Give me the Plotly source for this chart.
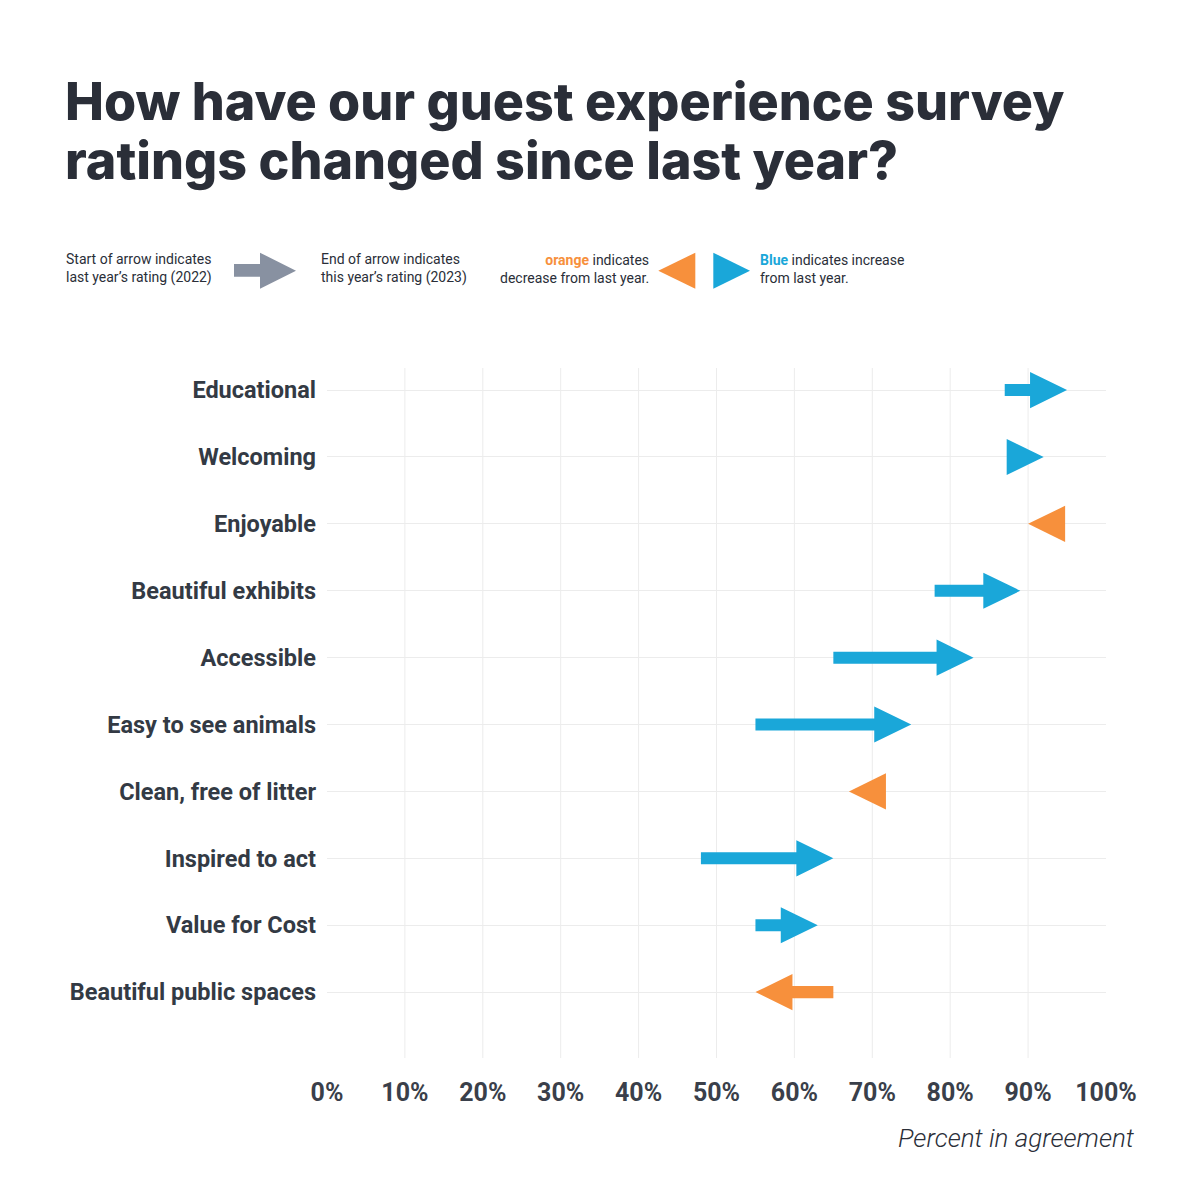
import plotly.graph_objects as go

# --- data -------------------------------------------------------------
categories = [
    "Educational",
    "Welcoming",
    "Enjoyable",
    "Beautiful exhibits",
    "Accessible",
    "Easy to see animals",
    "Clean, free of litter",
    "Inspired to act",
    "Value for Cost",
    "Beautiful public spaces",
]
rating_2022 = [87, 89, 93, 78, 65, 55, 70, 48, 55, 65]
rating_2023 = [95, 92, 90, 89, 83, 75, 67, 65, 63, 55]
x_ticks = [0, 10, 20, 30, 40, 50, 60, 70, 80, 90, 100]
x_tick_labels = [f"{v}%" for v in x_ticks]

BLUE = "#1aa7d9"
ORANGE = "#f7903c"
GRAY = "#8891a1"
TEXT = "#2a2e38"
GRID = "#ececec"

# plot area in page pixels (1200 x 1200 window, page body has an 8px margin)
L, R, T, B = 327, 1106, 368, 1058
OFF = 8

# arrow geometry in data units (x: percent, y: rows)
HEAD_LEN = 4.75
HEAD_HALF = 0.27
SHAFT_HALF = 0.09


def px_x(p):
    return (p - L) / (R - L)


def px_y(p):
    return (B - p) / (B - T)


def arrow_polygon(start, end, y):
    d = 1 if end >= start else -1
    base = end - d * HEAD_LEN
    if (base - start) * d > 0:
        xs = [start, base, base, end, base, base, start, start]
        ys = [y - SHAFT_HALF, y - SHAFT_HALF, y - HEAD_HALF, y,
              y + HEAD_HALF, y + SHAFT_HALF, y + SHAFT_HALF, y - SHAFT_HALF]
    else:
        # change smaller than the head: only the head is drawn
        xs = [base, end, base, base]
        ys = [y - HEAD_HALF, y, y + HEAD_HALF, y - HEAD_HALF]
    return xs, ys


fig = go.Figure()

for i, (cat, a, b) in enumerate(zip(categories, rating_2022, rating_2023)):
    xs, ys = arrow_polygon(a, b, i)
    color = BLUE if b >= a else ORANGE
    fig.add_trace(go.Scatter(
        x=xs, y=ys, mode="lines", fill="toself",
        fillcolor=color, line=dict(width=0, color=color),
        name=cat, hoverinfo="text",
        text=f"{cat}: {a}% → {b}%",
    ))

# vertical gridlines only between 10% and 90%
for v in x_ticks[1:-1]:
    fig.add_shape(type="line", xref="x", yref="paper", x0=v, x1=v, y0=0, y1=1,
                  line=dict(color=GRID, width=1), layer="below")

fig.update_xaxes(
    range=[0, 100], tickvals=x_ticks, ticktext=x_tick_labels,
    showgrid=False, zeroline=False, showline=False,
    tickfont=dict(family="Roboto", size=25, color="#3a3f4a", weight="bold"),
    ticklabelstandoff=17,
)
fig.update_yaxes(
    range=[9.985, -0.33], tickvals=list(range(len(categories))),
    ticktext=categories, showgrid=True, gridcolor=GRID, gridwidth=1,
    zeroline=False, showline=False,
    tickfont=dict(family="Roboto", size=23.5, color="#333a44", weight="bold"),
    ticklabelstandoff=10,
)

title_font = dict(family="Inter", size=52, color=TEXT, weight=800)
legend_font = dict(family="Roboto", size=14, color=TEXT)

annotations = [
    dict(text="How have our guest experience survey",
         x=px_x(63), y=px_y(101), xanchor="left", yanchor="middle", font=title_font),
    dict(text="ratings changed since last year?",
         x=px_x(63), y=px_y(161), xanchor="left", yanchor="middle", font=title_font),
    dict(text="Start of arrow indicates<br>last year’s rating (2022)",
         x=px_x(64), y=px_y(269), xanchor="left", yanchor="middle", align="left",
         font=legend_font),
    dict(text="End of arrow indicates<br>this year’s rating (2023)",
         x=px_x(319), y=px_y(269), xanchor="left", yanchor="middle", align="left",
         font=legend_font),
    dict(text=f"<b><span style='color:{ORANGE}'>orange</span></b> indicates<br>decrease from last year.",
         x=px_x(651), y=px_y(269), xanchor="right", yanchor="middle", align="right",
         font=legend_font),
    dict(text=f"<b><span style='color:{BLUE}'>Blue</span></b> indicates increase<br>from last year.",
         x=px_x(758), y=px_y(269), xanchor="left", yanchor="middle", align="left",
         font=legend_font),
    dict(text="<i>Percent in agreement</i>",
         x=px_x(1137), y=px_y(1138), xanchor="right", yanchor="middle",
         font=dict(family="Roboto", size=26, color=TEXT, weight=300)),
]
for a in annotations:
    a.update(xref="paper", yref="paper", showarrow=False)


# legend glyphs
def poly(points):
    return "M " + " L ".join(f"{px_x(x)},{px_y(y)}" for x, y in points) + " Z"


legend_shapes = [
    (GRAY, [(234, 264), (260, 264), (260, 252.7), (296, 270.7), (260, 288.7),
            (260, 276.7), (234, 276.7)]),
    (ORANGE, [(695.3, 252.7), (658.3, 270.7), (695.3, 288.7)]),
    (BLUE, [(713.3, 252.7), (750, 270.7), (713.3, 288.7)]),
]
for color, pts in legend_shapes:
    fig.add_shape(type="path", xref="paper", yref="paper", path=poly(pts),
                  fillcolor=color, line=dict(width=0))

fig.update_layout(
    width=1200, height=1200,
    margin=dict(l=L - OFF, r=1200 - R + OFF, t=T - OFF, b=1200 - B + OFF),
    paper_bgcolor="white", plot_bgcolor="white",
    showlegend=False, annotations=annotations,
)

fig.write_html("out.html")
